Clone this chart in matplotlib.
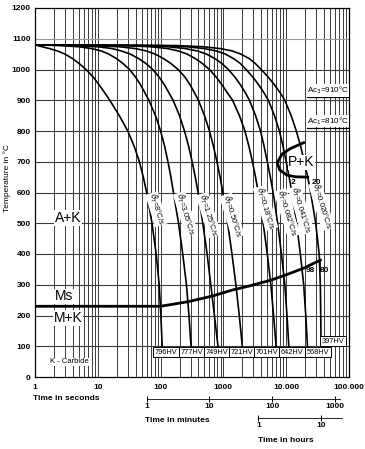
import matplotlib
matplotlib.use("Agg")
import matplotlib.pyplot as plt
import matplotlib.transforms as mtransforms

plt.rcParams['font.family'] = ['Liberation Sans', 'DejaVu Sans']

# cooling curves: time in s, temperature in degC
temps = [1080, 1078, 1074, 1068, 1060, 1050, 1035, 1020, 1000, 975, 950, 925,
         900, 850, 800, 750, 700, 650, 600, 500, 400, 300, 200, 100]
c1_t = [1, 1.1, 1.3, 1.7, 2.3, 3.0, 4.0, 5.0, 6.5, 8.5, 10.5, 12.8,
        15.5, 22, 30, 38, 46, 53, 60, 73, 85, 95, 101, 106]
c2_t = [1, 2.5, 5, 8, 11.5, 15, 20, 25, 32, 40, 48, 56,
        65, 83, 100, 116, 131, 146, 160, 193, 225, 258, 283, 305]
c3_t = [1, 4, 10, 17, 24, 33, 45, 58, 75, 95, 115, 135,
        158, 200, 240, 280, 318, 357, 395, 470, 550, 630, 720, 820]
c4_t = [1, 8, 22, 40, 60, 82, 112, 145, 190, 245, 295, 345,
        400, 500, 600, 695, 790, 885, 980, 1170, 1370, 1580, 1790, 2000]
c5_t = [1, 25, 70, 130, 195, 265, 360, 460, 600, 770, 950, 1150,
        1400, 1800, 2200, 2550, 2900, 3250, 3600, 4300, 5000, 5700, 6300, 6900]
c6_t = [1, 45, 130, 250, 390, 540, 740, 940, 1200, 1530, 1870, 2230,
        2600, 3250, 3900, 4450, 5000, 5600, 6200, 7300, 8400, 9500, 10300, 11000]
c7_t = [1, 90, 260, 500, 780, 1080, 1460, 1850, 2300, 2950, 3650, 4400,
        5200, 6500, 7800, 8900, 10000, 11150, 12300, 14600, 16800, 19000, 20500, 21800]
c8_T = temps[:-1] + [130]
c8_t = [1, 170, 480, 900, 1400, 1900, 2600, 3200, 4000, 5200, 6500, 8000,
        9500, 12000, 14500, 17000, 19500, 22000, 24500, 29500, 33500, 35000, 35500, 35800]

rates = ['8', '3.05', '1.25', '0.50', '0.18', '0.082', '0.041', '0.020']
hardness = ['796HV', '777HV', '749HV', '721HV', '701HV', '642HV', '568HV', '397HV']

# martensite start line
ms_t = [1, 100, 275, 660, 1400, 2700, 5700, 9900, 19000, 35000]
ms_T = [230, 230, 245, 263, 283, 297, 315, 332, 354, 380]

# pearlite + carbide nose
pk_t = [19000, 11700, 8600, 7200, 7900, 10200, 14000, 22000]
pk_T = [762, 743, 725, 697, 673, 657, 651, 650]

ac3, ac1 = 910, 810

# label anchors (time, temperature)
rate_pos = [(86, 546), (250, 530), (580, 527), (1370, 524),
            (4700, 550), (10300, 533), (17300, 543), (36500, 556)]
hv_pos = [(123, 81), (317, 81), (795, 81), (1970, 81),
          (5000, 81), (12400, 81), (31800, 81), (55000, 117)]

fig = plt.figure(figsize=(3.65, 4.49), dpi=100)
ax = fig.add_axes([35 / 365, 1 - 377 / 449, 314 / 365, 369 / 449])
ax.set_xscale('log')
ax.set_xlim(1, 1e5)
ax.set_ylim(0, 1200)

# grid
for dec in [1, 10, 100, 1000, 10000]:
    for k in range(1, 10):
        ax.axvline(dec * k, color='#3a3a3a', lw=0.7, zorder=1)
for T in range(100, 1200, 100):
    ax.axhline(T, color='#999999' if T == 1100 else '#3a3a3a', lw=0.8, zorder=1)

curves = [(c1_t, temps), (c2_t, temps), (c3_t, temps), (c4_t, temps),
          (c5_t, temps), (c6_t, temps), (c7_t, temps), (c8_t, c8_T)]
for t, T in curves:
    ax.plot(t, T, color='black', lw=1.2, zorder=3)

ax.plot(ms_t, ms_T, color='black', lw=2.0, zorder=4)
ax.plot([ms_t[-1], ms_t[-1]], [ms_T[-1], ms_T[-1] - 35], color='black', lw=1.2, zorder=4)
ax.plot(pk_t, pk_T, color='black', lw=2.0, zorder=4)

white = dict(facecolor='white', edgecolor='none', pad=0.6)
for (t, T), r in zip(rate_pos, rates):
    ax.text(t, T, r'$\vartheta_T$=' + r + '°C/s', fontsize=5.5, rotation=-73,
            ha='center', va='center', rotation_mode='anchor',
            bbox=dict(facecolor='white', edgecolor='none', pad=0.2), zorder=5)

for (t, T), h in zip(hv_pos, hardness):
    ax.text(t, T, h, fontsize=5.3, ha='center', va='center', zorder=6,
            bbox=dict(facecolor='white', edgecolor='black', lw=0.7, boxstyle='square,pad=0.25'))

# Ac lines with labels
for val, lab in [(ac3, 'Ac$_3$=910°C'), (ac1, 'Ac$_1$=810°C')]:
    ax.plot([21800, 1e5], [val, val], color='black', lw=0.9, zorder=5)
    ax.text(9.9e4, val + 3, lab, fontsize=5.8, ha='right', va='bottom',
            bbox=dict(facecolor='white', edgecolor='none', pad=0.3), zorder=5)

ax.text(17500, 698, 'P+K', fontsize=10, ha='center', va='center',
        bbox=dict(facecolor='white', edgecolor='none', pad=0.1), zorder=5)
ax.text(13000, 634, '2', fontsize=6, fontweight='bold', ha='center', va='center', zorder=5)
ax.text(30000, 634, '20', fontsize=6, fontweight='bold', ha='center', va='center', zorder=5)
ax.text(24300, 345, '98', fontsize=6, fontweight='bold', ha='center', va='center', zorder=5)
ax.text(40700, 345, '80', fontsize=6, fontweight='bold', ha='center', va='center', zorder=5)

ax.text(3.36, 517, 'A+K', fontsize=10, ha='center', va='center', bbox=white, zorder=5)
ax.text(2.9, 262, 'Ms', fontsize=10, ha='center', va='center', bbox=white, zorder=5)
ax.text(3.36, 192, 'M+K', fontsize=10, ha='center', va='center', bbox=white, zorder=5)
ax.text(3.5, 49, 'K - Carbide', fontsize=5.5, ha='center', va='center', bbox=white, zorder=5)

# axes styling
ax.set_xticks([1, 10, 100, 1000, 10000, 100000])
ax.set_xticklabels(['1', '10', '100', '1000', '10.000', '100.000'])
ax.set_xticks([], minor=True)
ax.set_yticks(range(0, 1300, 100))
ax.tick_params(axis='both', length=0, labelsize=6)
ax.tick_params(axis='x', pad=5)
ax.tick_params(axis='y', pad=3)
for lab in ax.get_xticklabels() + ax.get_yticklabels():
    lab.set_fontweight('bold')
for s in ax.spines.values():
    s.set_linewidth(0.9)

fig.text(7 / 365, 1 - 178 / 449, 'Temperature in °C', rotation=90, fontsize=6,
         ha='center', va='center')

# secondary time scales (minutes, hours) below the axis
trans = mtransforms.blended_transform_factory(ax.transData, ax.transAxes)
min_ticks = [60, 600, 6000, 60000]
hour_ticks = [3600, 36000]
ax.plot([60, 73000], [-0.0596, -0.0596], color='black', lw=0.6, transform=trans, clip_on=False)
ax.plot(min_ticks, [-0.0596] * 4, ls='none', marker='|', ms=4, mew=0.7, color='black',
        transform=trans, clip_on=False)
for t, s in zip(min_ticks, ['1', '10', '100', '1000']):
    ax.text(t, -0.071, s, fontsize=6, fontweight='bold', ha='center', va='top',
            transform=trans, clip_on=False)
ax.plot([3600, 76000], [-0.111, -0.111], color='black', lw=0.6, transform=trans, clip_on=False)
ax.plot(hour_ticks, [-0.111] * 2, ls='none', marker='|', ms=4, mew=0.7, color='black',
        transform=trans, clip_on=False)
for t, s in zip(hour_ticks, ['1', '10']):
    ax.text(t, -0.122, s, fontsize=6, fontweight='bold', ha='center', va='top',
            transform=trans, clip_on=False)

fig.text(33 / 365, 1 - 399 / 449, 'Time in seconds', fontsize=6, fontweight='bold',
         ha='left', va='center')
fig.text(145 / 365, 1 - 421 / 449, 'Time in minutes', fontsize=6, fontweight='bold',
         ha='left', va='center')
fig.text(258 / 365, 1 - 441 / 449, 'Time in hours', fontsize=6, fontweight='bold',
         ha='left', va='center')

fig.savefig('out.png', dpi=100)
